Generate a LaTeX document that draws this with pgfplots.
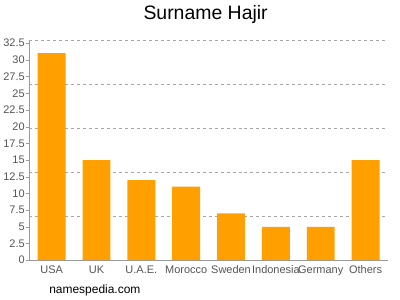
\documentclass[border=0pt]{standalone}
\usepackage{pgfplots}
\pgfplotsset{compat=1.18}
\usepackage{fontspec}
\setmainfont{Liberation Sans}
\definecolor{barorange}{HTML}{FFA000}
\definecolor{tickgray}{HTML}{555555}
\definecolor{axgray}{HTML}{999999}
\begin{document}
\begin{tikzpicture}[x=1pt,y=1pt]
\path[fill=white] (0,0) rectangle (400,300);
\begin{axis}[
  at={(28pt,39pt)}, anchor=south west,
  width=360pt, height=221pt, scale only axis,
  xmin=-0.5, xmax=7.5, ymin=0, ymax=33,
  axis x line*=bottom, axis y line*=left,
  axis line style={axgray},
  ytick={0,2.5,...,32.5},
  yticklabels={0,2.5,5,7.5,10,12.5,15,17.5,20,22.5,25,27.5,30,32.5},
  extra y ticks={6.6,13.2,19.8,26.4,33},
  extra y tick labels={},
  extra y tick style={grid=major, major tick length=0pt},
  major grid style={dashed, gray!70},
  xtick=data,
  xticklabels={USA,UK,U.A.E.,Morocco,Sweden,Indonesia,Germany,Others},
  x tick label style={font=\fontsize{11}{12}\selectfont, text=tickgray, yshift=1pt},
  y tick label style={font=\fontsize{11}{12}\selectfont, text=tickgray, xshift=2pt},
  /pgf/number format/assume math mode=true,
  ytick style={axgray}, major tick length=3pt,
  xtick style={draw=none},
  tick align=outside,
  ybar, bar width=28pt,
]
\addplot[fill=barorange, draw=none] coordinates {
(0,31) (1,15) (2,12) (3,11) (4,7) (5,5) (6,5) (7,15)};
\end{axis}
\node[font=\fontsize{19.5}{22}\selectfont] at (205,285) {Surname Hajir};
\node[font=\fontsize{12}{14}\selectfont, anchor=west, inner sep=0pt] at (48,9) {namespedia.com};
\end{tikzpicture}
\end{document}
